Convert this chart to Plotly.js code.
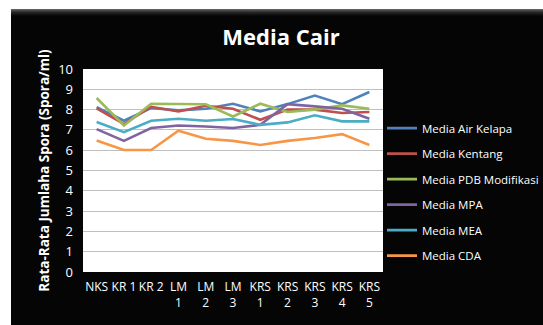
<!DOCTYPE html>
<html>
<head>
<meta charset="utf-8">
<script src="https://cdn.plot.ly/plotly-3.0.1.min.js"></script>
<style>
  html, body { margin: 0; padding: 0; background: #ffffff; width: 543px; height: 325px; overflow: hidden; }
  #wrap { position: absolute; left: 11px; top: 9px; width: 532px; height: 316px;
          background: linear-gradient(to bottom, #6a6a6a 0px, #2a2a2a 3px, #050505 7px, #050505 100%); }
  #chart { position: absolute; left: 0; top: 1px; width: 532px; height: 315px; }
</style>
</head>
<body>
<div id="wrap"><div id="chart"></div></div>
<script>
const categories = ["NKS", "KR 1", "KR 2", "LM 1", "LM 2", "LM 3", "KRS 1", "KRS 2", "KRS 3", "KRS 4", "KRS 5"];
const tickLabels = ["NKS", "KR 1", "KR 2", "LM<br>1", "LM<br>2", "LM<br>3", "KRS<br>1", "KRS<br>2", "KRS<br>3", "KRS<br>4", "KRS<br>5"];

const airKelapa  = [8.12, 7.45, 8.08, 7.96, 8.04, 8.29, 7.91, 8.27, 8.69, 8.27, 8.87];
const kentang    = [8.06, 7.29, 8.14, 7.91, 8.19, 8.04, 7.50, 8.00, 8.00, 7.83, 7.88];
const pdbModif   = [8.57, 7.22, 8.29, 8.26, 8.26, 7.66, 8.29, 7.88, 8.00, 8.21, 8.04];
const mpa        = [7.04, 6.46, 7.09, 7.22, 7.17, 7.09, 7.25, 8.27, 8.16, 8.04, 7.55];
const mea        = [7.39, 6.89, 7.45, 7.55, 7.45, 7.54, 7.25, 7.37, 7.72, 7.42, 7.42];
const cda        = [6.48, 6.01, 6.01, 6.96, 6.56, 6.46, 6.26, 6.46, 6.60, 6.79, 6.26];

const seriesNames = ["Media Air Kelapa", "Media Kentang", "Media PDB Modifikasi", "Media MPA", "Media MEA", "Media CDA"];
const seriesData = [airKelapa, kentang, pdbModif, mpa, mea, cda];
const colors = ["#4F81BD", "#C0504D", "#9BBB59", "#8064A2", "#4BACC6", "#F79646"];

const traces = seriesData.map((vals, i) => ({
  type: "scatter",
  mode: "lines",
  x: categories,
  y: vals,
  name: seriesNames[i],
  legendgroup: "g" + i,
  line: { color: colors[i], width: 2.6 }
}));

const font = "Open Sans, Noto Sans, sans-serif";

const layout = {
  width: 532,
  height: 315,
  paper_bgcolor: "rgba(0,0,0,0)",
  plot_bgcolor: "#ffffff",
  margin: { l: 72, r: 160, t: 59, b: 53, autoexpand: false },
  title: {
    text: "<b>Media Cair</b>",
    font: { family: font, size: 22, color: "#ffffff" },
    x: 270 / 532, xanchor: "center",
    y: 1 - 27 / 315, yanchor: "middle"
  },
  xaxis: {
    type: "category",
    tickmode: "array",
    tickvals: categories,
    ticktext: tickLabels,
    tickfont: { family: font, size: 12, color: "#ffffff" },
    showgrid: false,
    zeroline: false,
    showline: false,
    ticks: "",
    ticklabelstandoff: 6,
    range: [-0.5, 10.5],
    fixedrange: true
  },
  yaxis: {
    range: [0, 10],
    dtick: 1,
    tickfont: { family: font, size: 13, color: "#ffffff" },
    gridcolor: "#bfbfbf",
    gridwidth: 1,
    zeroline: false,
    showline: false,
    ticks: "",
    ticklabelstandoff: 9,
    title: {
      text: "<b>Rata-Rata Jumlaha Spora (Spora/ml)</b>",
      font: { family: font, size: 13.5, color: "#ffffff" },
      standoff: 5
    }
  },
  legend: {
    x: (382 - 83) / 300, xanchor: "left",
    y: 0.78, yanchor: "top",
    font: { family: font, size: 11.5, color: "#ffffff" },
    bgcolor: "rgba(0,0,0,0)",
    traceorder: "grouped",
    tracegroupgap: 6.5
  },
  showlegend: true
};

Plotly.newPlot("chart", traces, layout, { displayModeBar: false, staticPlot: true });
</script>
</body>
</html>
